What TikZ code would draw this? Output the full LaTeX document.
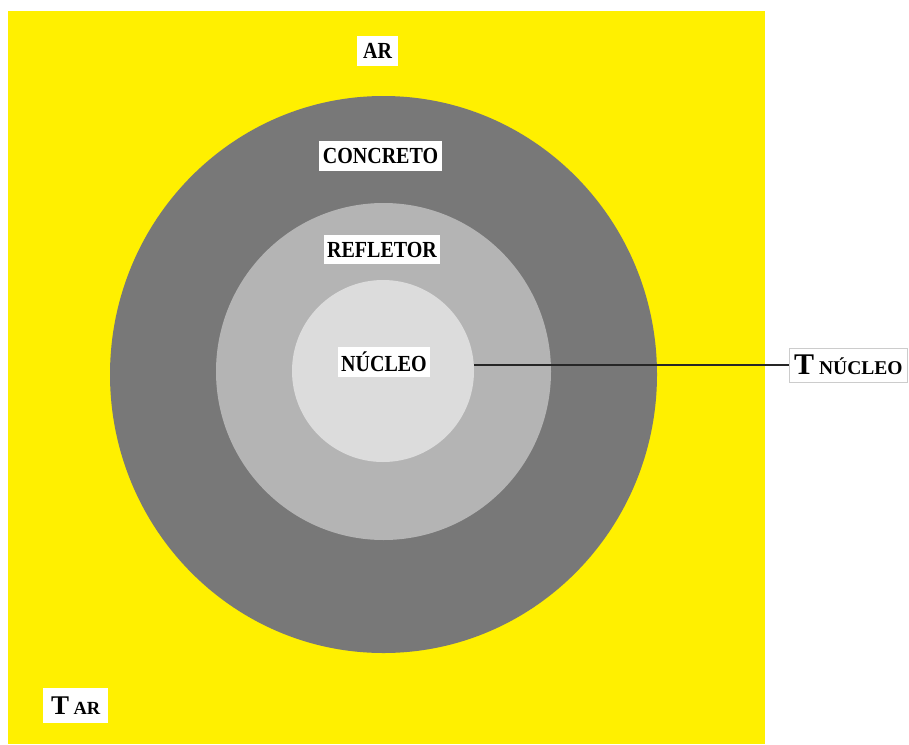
\documentclass[tikz,border=0pt]{standalone}
\usepackage{graphicx}
\usepackage{fontspec}
\setmainfont{Liberation Serif}
\newcommand{\narrowtxt}[1]{\scalebox{0.87}[1]{#1}}
\begin{document}
\begin{tikzpicture}[x=1pt,y=-1pt,
  lbl/.style={fill=white,inner sep=0pt,font=\bfseries\fontsize{23}{23}\selectfont,text=black,minimum height=30pt},
  tbox/.style={fill=white,draw=black!20,line width=0.6pt,inner sep=0pt,text=black}]
\definecolor{ylw}{HTML}{FFF000}
\definecolor{g1}{HTML}{787878}
\definecolor{g2}{HTML}{B4B4B4}
\definecolor{g3}{HTML}{DCDCDC}
\useasboundingbox (0,0) rectangle (909,744);
\fill[white] (0,0) rectangle (909,744);
\fill[ylw] (8,11) rectangle (765,744);
\fill[g1] (383.5,374.5) ellipse [x radius=273.5, y radius=278.5];
\fill[g2] (383.5,371.5) ellipse [x radius=167.5, y radius=168.5];
\fill[g3] (383,371) circle [radius=91];
\node[lbl,minimum width=41pt] (ar) at (377.5,51) {\narrowtxt{AR}};
\node[lbl,minimum width=123pt] (conc) at (380.5,156) {\narrowtxt{CONCRETO}};
\node[lbl,minimum width=116pt,minimum height=29pt] (refl) at (382,249.5) {\narrowtxt{REFLETOR}};
\node[lbl,minimum width=92pt] (nuc) at (384,362) {\narrowtxt{NÚCLEO}};
\coordinate (nucedge) at (474,365);
\node[tbox,anchor=west,minimum height=34pt,minimum width=118pt] (tnuc) at (789,365) {\bfseries\fontsize{30}{30}\selectfont T\,\fontsize{19.5}{19.5}\selectfont NÚCLEO};
\node[lbl,anchor=west,minimum height=35pt,minimum width=65pt,font=\bfseries] (tar) at (43,705.5) {\fontsize{27}{27}\selectfont T\,\fontsize{18.5}{18.5}\selectfont AR};
\draw[black!85,line width=1.3pt] (nucedge) -- (tnuc.west);
\end{tikzpicture}
\end{document}
